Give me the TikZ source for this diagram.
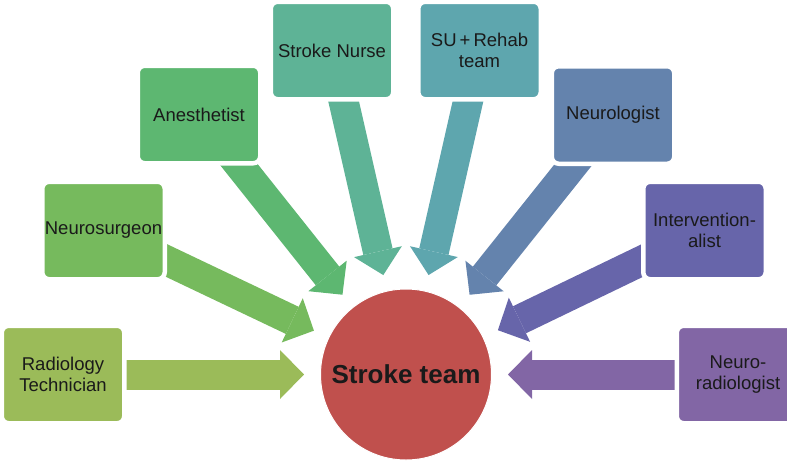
\documentclass[tikz,border=0pt]{standalone}
\usepackage{fontspec}
\setmainfont{Liberation Sans}
\usepackage{xcolor}
\definecolor{cHub}{HTML}{C0504D}
\definecolor{cRad}{HTML}{9BBB59}
\definecolor{cSurg}{HTML}{76BA5D}
\definecolor{cAnes}{HTML}{5DB771}
\definecolor{cNurse}{HTML}{5EB396}
\definecolor{cRehab}{HTML}{5EA6AE}
\definecolor{cNeuro}{HTML}{6483AD}
\definecolor{cInterv}{HTML}{6765AA}
\definecolor{cNrad}{HTML}{8266A5}
\definecolor{cText}{HTML}{1A1A1A}
\usepackage{tikz}
\usetikzlibrary{arrows.meta,backgrounds}
\tikzset{
  team-box/.style={draw=white,line width=4.5pt,rounded corners=7pt,
    minimum width=122.5pt,minimum height=97.5pt,inner sep=0pt,align=center,
    text=cText,font=\fontsize{18.5}{21.7}\selectfont},
  team-hub/.style={circle,fill=cHub,draw=white,line width=1pt,
    minimum size=171pt,inner sep=0pt,text=cText,
    font=\bfseries\fontsize{26}{30}\selectfont},
  % block arrow: wide shaft + broad triangle head, stops short of the hub
  team-arrow/.style={line width=30pt,
    -{Triangle[length=24pt,width=49pt,line width=0pt]},shorten >=16pt},
}

\begin{document}
\begin{tikzpicture}[x=1pt,y=-1pt]
  \useasboundingbox (0,0) rectangle (787,461);
  \node[team-hub] (team) at (406,374.5) {Stroke team};
  \node[team-box,fill=cRad]    (rad)    at (63,374.5)  {Radiology\\Technician};
  \node[team-box,fill=cSurg]   (surg)   at (103.5,230.5) {Neurosurgeon};
  \node[team-box,fill=cAnes]   (anes)   at (199,114.5) {Anesthetist};
  \node[team-box,fill=cNurse]  (nurse)  at (332,50.5)  {Stroke Nurse};
  \node[team-box,fill=cRehab]  (rehab)  at (479.5,50.5) {SU\,+\,Rehab\\team};
  \node[team-box,fill=cNeuro]  (neuro)  at (613,115)   {Neurologist};
  \node[team-box,fill=cInterv] (interv) at (704.5,230.5) {Intervention-\\alist};
  \node[team-box,fill=cNrad]   (nrad)   at (738,374.5) {Neuro-\\radiologist};
  \begin{scope}[on background layer]
    \draw[team-arrow,cRad]    (rad.center)    -- (team);
    \draw[team-arrow,cSurg]   (surg.center)   -- (team);
    \draw[team-arrow,cAnes]   (anes.center)   -- (team);
    \draw[team-arrow,cNurse]  (nurse.center)  -- (team);
    \draw[team-arrow,cRehab]  (rehab.center)  -- (team);
    \draw[team-arrow,cNeuro]  (neuro.center)  -- (team);
    \draw[team-arrow,cInterv] (interv.center) -- (team);
    \draw[team-arrow,cNrad]   (nrad.center)   -- (team);
  \end{scope}
\end{tikzpicture}
\end{document}
